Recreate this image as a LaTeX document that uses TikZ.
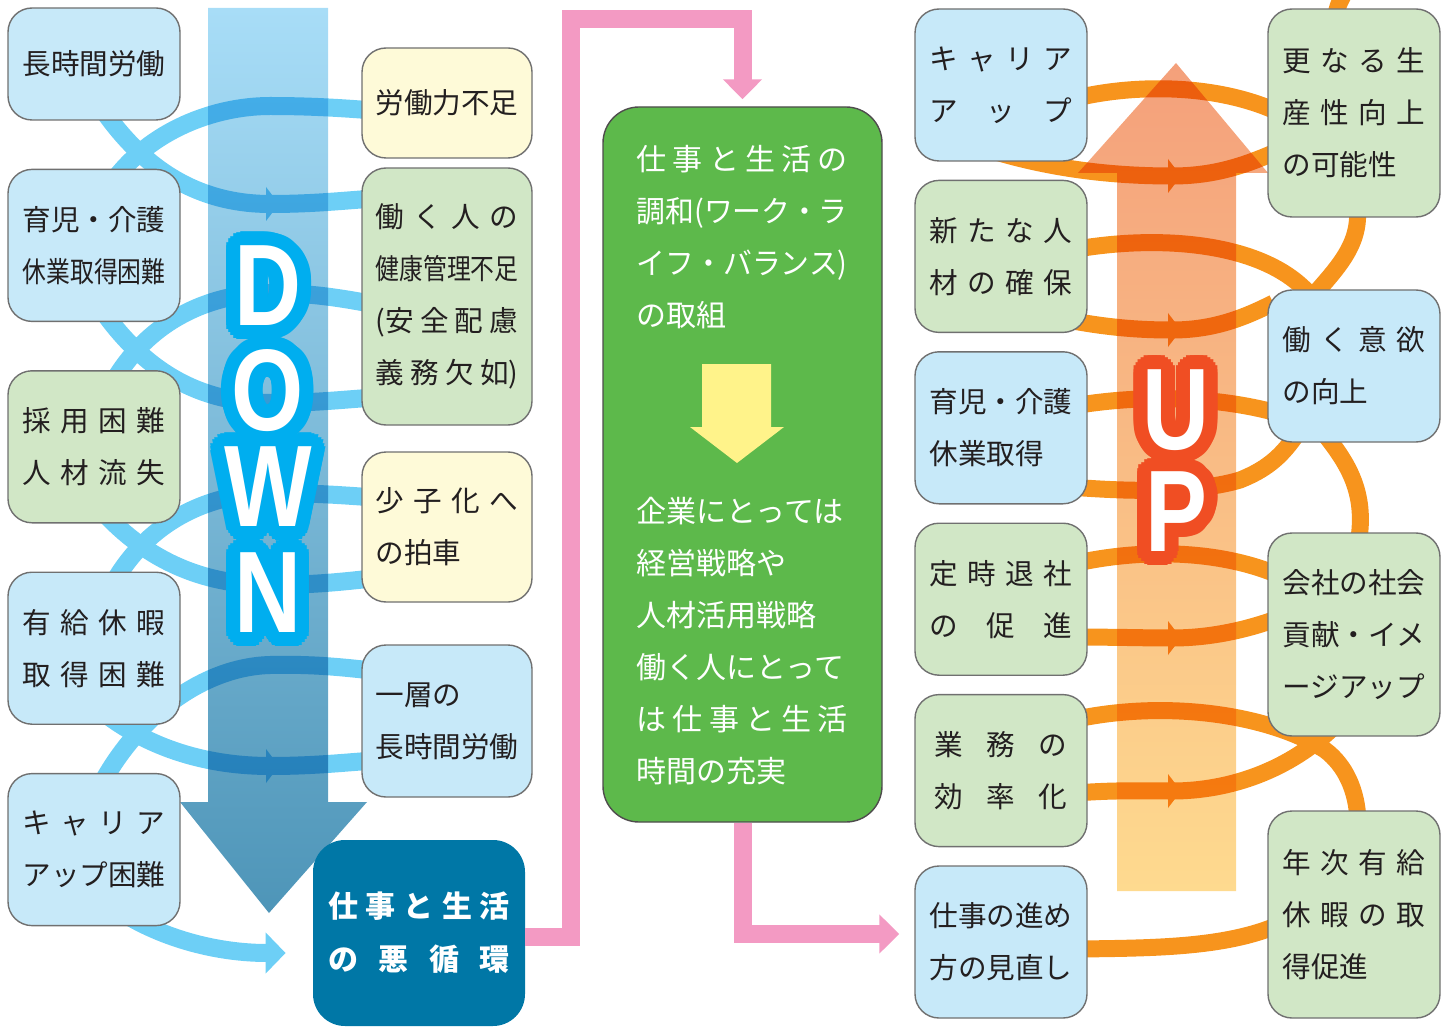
\documentclass[tikz,border=0pt]{standalone}
\usepackage{fontspec}
\usepackage{graphicx}
\usetikzlibrary{arrows.meta,positioning}
\newfontfamily\jp{Noto Sans CJK JP}
\newfontfamily\letterfont{Liberation Sans}
\definecolor{paleblue}{HTML}{C7E9F9}
\definecolor{palegreen}{HTML}{D1E7C6}
\definecolor{paleyellow}{HTML}{FEFAD8}
\definecolor{boxline}{HTML}{707070}
\definecolor{ink}{HTML}{231F20}
\definecolor{deepblue}{HTML}{0077A6}
\definecolor{leafgreen}{HTML}{5DB94B}
\definecolor{bluecurve}{HTML}{6DCFF6}
\definecolor{orangecurve}{HTML}{F7941D}
\definecolor{pinkc}{HTML}{F39AC3}
\definecolor{downrim}{HTML}{00AEEF}
\definecolor{uprim}{HTML}{F04E23}
\definecolor{downtop}{HTML}{A8DDF7}
\definecolor{downbot}{HTML}{4E95B8}
\definecolor{uptop}{HTML}{F4A07B}
\definecolor{upbot}{HTML}{FEDA8F}
\definecolor{lemon}{HTML}{FFF38A}
\makeatletter
\newcommand\spreadline[2][71.5pt]{\makebox[#1][s]{\@tfor\sl@ch:=#2\do{\sl@ch\hfill}\unskip}}
\makeatother
\newcommand\natline[2][71.5pt]{\makebox[#1][l]{#2}}
\newcommand\fitline[2][71.5pt]{\resizebox{#1}{\height}{#2}}
\newcommand\squash[1]{\scalebox{0.8}[1]{#1}}
\pgfdeclarelayer{background}
\pgfsetlayers{background,main}
\tikzset{
    %Define style for boxes
    causebox/.style={
           rectangle,
           rounded corners=12pt,
           draw=boxline, line width=.7pt,
           minimum width=86pt,
           minimum height=76pt,
           inner sep=0pt,
           font=\jp\fontsize{14.3pt}{26pt}\selectfont,
           text=ink,
           align=left},
    bluebox/.style={causebox, fill=paleblue},
    greenbox/.style={causebox, fill=palegreen},
    yellowbox/.style={causebox, fill=paleyellow},
    whitetext/.style={
           inner sep=0pt,
           font=\jp\fontsize{15pt}{26pt}\selectfont,
           text=white,
           align=left},
    bigletter/.style={
           inner sep=0pt,
           font=\letterfont\bfseries\fontsize{58pt}{58pt}\selectfont},
    % Define line styles
    downline/.style={draw=bluecurve, line width=9pt},
    upline/.style={draw=orangecurve, line width=8.5pt},
    pil/.style={
           draw=pinkc, line width=9pt,
           -{Triangle[length=10pt,width=19pt]}},
    midtip/.pic={\fill (-4,-17) -- (9,0) -- (-4,17) -- cycle;}
}
\begin{document}
\begin{tikzpicture}[x=0.5pt,y=-0.5pt]
\useasboundingbox (0,0) rectangle (1451,1027);
% causes, left column
\node[bluebox, minimum height=56pt] (L1) at (94,64) {\natline{長時間労働}};
\node[bluebox, below=24pt of L1] (L2) {\natline{育児・介護}\\\fitline{休業取得困難}};
\node[greenbox, below=24pt of L2] (L3) {\spreadline{採用困難}\\\spreadline{人材流失}};
\node[bluebox, below=24pt of L3] (L4) {\spreadline{有給休暇}\\\spreadline{取得困難}};
\node[bluebox, below=24pt of L4] (L5) {\spreadline{キャリア}\\\natline{アップ困難}};
% effects
\node[yellowbox, minimum width=85pt, minimum height=55pt] (R1) at (447,103) {\natline{労働力不足}};
\node[greenbox, minimum width=85pt, minimum height=128.5pt] (R2) at (447,296.5)
  {\spreadline{働く人の}\\\fitline{健康管理不足}\\\makebox[71.5pt][s]{(安\hfill 全\hfill 配\hfill 慮}\\\makebox[71.5pt][s]{義\hfill 務\hfill 欠\hfill 如)}};
\node[yellowbox, minimum width=85pt, minimum height=75pt] (R3) at (447,527) {\spreadline{少子化へ}\\\natline{の拍車}};
\node[bluebox, minimum width=85pt] (R4) at (447,721) {\natline{一層の}\\\natline{長時間労働}};
\node[rectangle, rounded corners=16pt, fill=deepblue, minimum width=106pt, minimum height=93pt,
  inner sep=0pt, text=white, align=left, font=\jp\bfseries\fontsize{15pt}{26.5pt}\selectfont]
  (vicious) at (419,933) {\spreadline[91pt]{仕事と生活}\\\spreadline[91pt]{の悪循環}};
% middle
\node[rectangle, rounded corners=18pt, draw=ink!80, line width=.7pt, fill=leafgreen,
  minimum width=139.5pt, minimum height=357.5pt] (wlb) at (742.5,464.5) {};
\node[whitetext, anchor=west] (wlbtop) at ([shift={(34,130.5)}]wlb.north west)
  {\spreadline[105.5pt]{仕事と生活の}\\\fitline[105.5pt]{調和(ワーク・ラ}\\\fitline[105.5pt]{イフ・バランス)}\\\natline[105.5pt]{の取組}};
\node[whitetext, anchor=west] (wlbbot) at ([shift={(34,535)}]wlb.north west)
  {\natline[105.5pt]{企業にとっては}\\\natline[105.5pt]{経営戦略や}\\\natline[105.5pt]{人材活用戦略}\\\natline[105.5pt]{働く人にとって}\\\spreadline[105.5pt]{は仕事と生活}\\\natline[105.5pt]{時間の充実}};
\fill[lemon] (702,364) -- (771,364) -- (771,427) -- (784,427) -- (737,463) -- (690,427) -- (702,427) -- cycle;
% measures, right side
\node[bluebox] (U1) at (1001,85) {\spreadline{キャリア}\\\spreadline{アップ}};
\node[greenbox, below=9pt of U1] (U2) {\spreadline{新たな人}\\\spreadline{材の確保}};
\node[bluebox, below=9pt of U2] (U3) {\natline{育児・介護}\\\natline{休業取得}};
\node[greenbox, below=9pt of U3] (U4) {\spreadline{定時退社}\\\spreadline{の促進}};
\node[greenbox, below=9pt of U4] (U5) {\spreadline[66.5pt]{業務の}\\\spreadline[66.5pt]{効率化}};
\node[bluebox, below=9pt of U5] (U6) {\natline{仕事の進め}\\\natline{方の見直し}};
\node[greenbox, minimum height=104pt] (V1) at (1354,113) {\spreadline{更なる生}\\\spreadline{産性向上}\\\natline{の可能性}};
\node[bluebox] (V2) at (1354,366) {\spreadline{働く意欲}\\\natline{の向上}};
\node[greenbox, minimum height=101.5pt] (V3) at (1354,634.5) {\natline{会社の社会}\\\natline{貢献・イメ}\\\natline{ージアップ}};
\node[greenbox, minimum height=103.5pt] (V4) at (1354,914.5) {\spreadline{年次有給}\\\spreadline{休暇の取}\\\natline{得促進}};
\coordinate (topend) at (1352,-20);
% pink flow
\draw[pil] (vicious.east |- 0,937) -| (571,19) -| ([yshift=3.5pt]wlb.north);
\draw[pil] (wlb.south) |- ([shift={(-15,-8)}]U6.west);
% DOWN / UP letters
\foreach \ch/\ypos [count=\i] in {D/286,O/391,W/487,N/593}{
  \foreach \a in {0,15,...,345}
    \node[bigletter, text=downrim] (rimD\i-\a) at ([shift={(\a:7pt)}]268,\ypos) {\squash{\ch}};
  \foreach \a in {0,30,...,330}
    \node[bigletter, text=downrim] (rimd\i-\a) at ([shift={(\a:3.5pt)}]268,\ypos) {\squash{\ch}};
  \node[bigletter, text=white] (down\i) at (268,\ypos) {\squash{\ch}};
}
\foreach \ch/\ypos [count=\i] in {U/410,P/512}{
  \foreach \a in {0,15,...,345}
    \node[bigletter, text=uprim] (rimU\i-\a) at ([shift={(\a:7pt)}]1176,\ypos) {\squash{\ch}};
  \foreach \a in {0,30,...,330}
    \node[bigletter, text=uprim] (rimu\i-\a) at ([shift={(\a:3.5pt)}]1176,\ypos) {\squash{\ch}};
  \node[bigletter, text=white] (up\i) at (1176,\ypos) {\squash{\ch}};
}
\begin{pgfonlayer}{background}
  % vicious circle
  \draw[downline] ([shift={(18,14)}]L2.north) .. controls (150,130) and (215,106) .. (270,106)
    .. controls (310,106) and (340,108) .. ([shift={(6,7)}]R1.west);
  \draw[downline] ([shift={(6,-15)}]L1.south) .. controls (150,180) and (210,204) .. (270,204)
    .. controls (310,204) and (340,201) .. ([shift={(6,-97.5)}]R2.west);
  \draw[downline] ([shift={(18,14)}]L3.north) .. controls (150,317) and (215,293) .. (270,293)
    .. controls (310,293) and (340,298) .. ([shift={(6,6.5)}]R2.west);
  \draw[downline] ([shift={(6,-15)}]L2.south) .. controls (150,380) and (210,403) .. (270,403)
    .. controls (310,403) and (340,400) .. ([shift={(6,101.5)}]R2.west);
  \draw[downline] ([shift={(18,14)}]L4.north) .. controls (150,517) and (215,493) .. (270,493)
    .. controls (310,493) and (340,495) .. ([shift={(6,-30)}]R3.west);
  \draw[downline] ([shift={(6,-15)}]L3.south) .. controls (150,565) and (210,585) .. (270,585)
    .. controls (310,585) and (340,582) .. ([shift={(6,52)}]R3.west);
  \draw[downline] ([shift={(6,14)}]L5.north) .. controls (135,720) and (200,667) .. (270,665)
    .. controls (310,664) and (340,667) .. ([shift={(6,-51)}]R4.west);
  \draw[downline] ([shift={(6,-15)}]L4.south) .. controls (150,750) and (210,766) .. (270,766)
    .. controls (310,766) and (340,763) .. ([shift={(6,40)}]R4.west);
  \draw[downline, -{Triangle[length=10pt,width=20pt]}] ([shift={(26,-15)}]L5.south)
    .. controls (165,940) and (220,953) .. ([shift={(-27,20)}]vicious.west);
  \pic[color=bluecurve] at (270,204) {midtip};
  \pic[color=bluecurve] at (270,766) {midtip};
  % virtuous circle
  \draw[upline] ([shift={(-7,12)}]U1.east) .. controls (1140,84) and (1215,85) .. ([shift={(6,-3)}]V1.west);
  \draw[upline] ([shift={(-16,-13)}]U1.south) .. controls (1040,166) and (1100,176) .. (1172,176)
    .. controls (1215,176) and (1245,165) .. ([shift={(6,40)}]V1.west);
  \draw[upline] ([shift={(-7,-8)}]U2.east) .. controls (1170,234) and (1270,245) .. ([shift={(-42,8)}]V2.north);
  \draw[upline] ([shift={(3,-12)}]V1.south) .. controls (1362,245) and (1335,270) .. ([shift={(-42,8)}]V2.north);
  \draw[upline] ([shift={(39,-19)}]U2.south) .. controls (1100,328) and (1140,330) .. (1172,330)
    .. controls (1210,330) and (1240,320) .. ([shift={(6,-63)}]V2.west);
  \draw[upline] ([shift={(-7,-23)}]U3.east) .. controls (1150,394) and (1220,398) .. ([shift={(6,46)}]V2.west);
  \draw[upline] ([shift={(-7,60)}]U3.east) .. controls (1140,492) and (1200,492) .. (1240,480)
    .. controls (1265,470) and (1280,458) .. ([shift={(-59,-6)}]V2.south);
  \draw[upline] ([shift={(-32,-12)}]V2.south) .. controls (1345,460) and (1368,490) .. ([shift={(4,12)}]V3.north);
  \draw[upline] ([shift={(-19,11)}]V1.north) .. controls (1338,4) .. (topend);
  \draw[upline] ([shift={(-7,-37)}]U4.east) .. controls (1150,548) and (1220,552) .. ([shift={(6,-61.5)}]V3.west);
  \draw[upline] ([shift={(-7,38)}]U4.east) .. controls (1120,637) and (1140,638) .. (1172,638)
    .. controls (1210,638) and (1245,630) .. ([shift={(6,-14.5)}]V3.west);
  \draw[upline] ([shift={(-9,-52)}]U5.east) .. controls (1170,700) and (1270,715) .. (1325,750)
    .. controls (1345,765) and (1357,790) .. ([shift={(4,11)}]V4.north);
  \draw[upline] ([shift={(-7,22)}]U5.east) .. controls (1120,790) and (1140,791) .. (1172,791)
    .. controls (1230,791) and (1290,770) .. ([shift={(-19,-11)}]V3.south);
  \draw[upline] ([shift={(-7,7)}]U6.east) .. controls (1150,948) and (1220,948) .. ([shift={(6,12.5)}]V4.west);
  \pic[color=orangecurve] at (1172,176) {midtip};
  \pic[color=orangecurve] at (1172,330) {midtip};
  \pic[color=orangecurve] at (1172,638) {midtip};
  \pic[color=orangecurve] at (1172,791) {midtip};
  % big arrows, laid over the curves
  \path[top color=downtop, bottom color=downbot, blend mode=multiply] (208,8) -- (328,8) -- (328,802)
    -- (367,802) -- (269,913) -- (180,802) -- (208,802) -- cycle;
  \path[top color=uptop, bottom color=upbot, blend mode=multiply] (1117,891) -- (1117,173) -- (1078,173)
    -- (1176,63) -- (1268,173) -- (1236,173) -- (1236,891) -- cycle;
\end{pgfonlayer}
\end{tikzpicture}
\end{document}
